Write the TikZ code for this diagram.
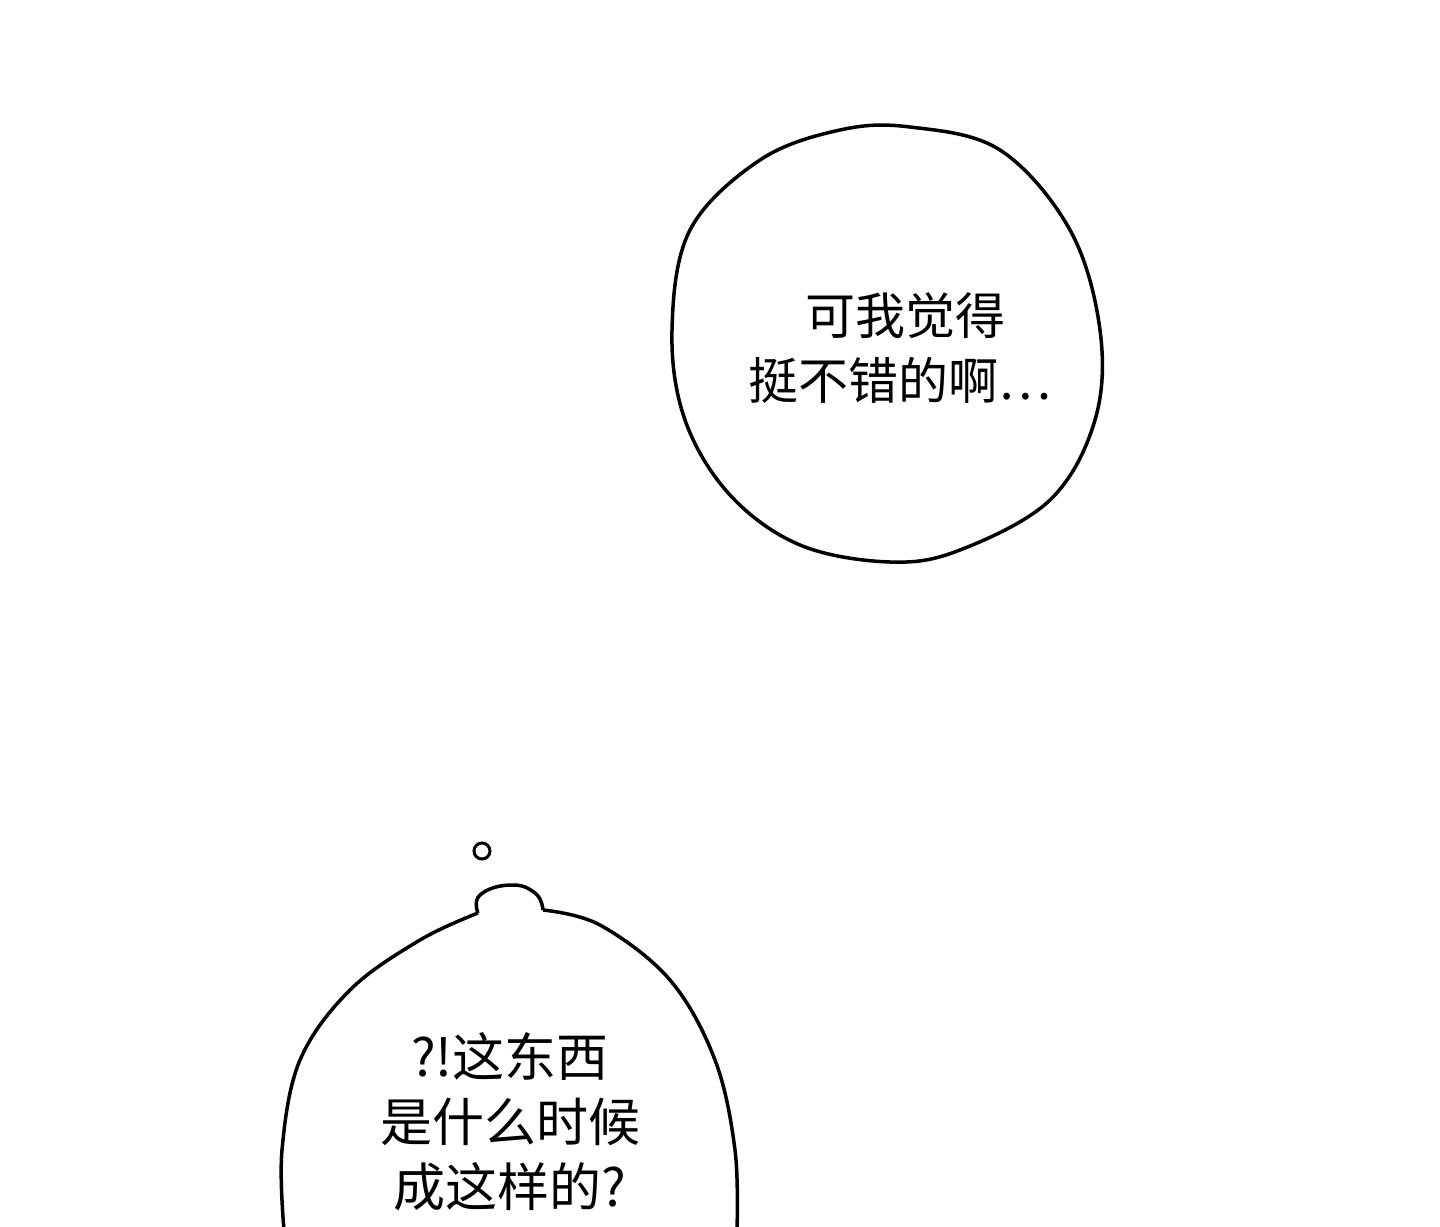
\documentclass[tikz,border=0pt]{standalone}
\usepackage{fontspec}
\newfontfamily\cjk{Noto Sans CJK SC}
\begin{document}
\begin{tikzpicture}[x=1pt,y=-1pt,line width=3.5pt,
  txt/.style={font=\cjk\fontsize{50}{65}\selectfont,align=center,inner sep=0pt}]
\useasboundingbox (0,0) rectangle (1440,1226);
\fill[white] (0,0) rectangle (1440,1226);
\draw plot[smooth cycle,tension=0.6] coordinates {(910,127) (1000,150) (1070,230) (1100,330) (1095,420) (1050,500) (960,550) (890,562) (800,545) (730,495) (685,420) (672,330) (690,230) (760,160) (840,130)};
\node[txt] (t1) at (900,348) {\ 可我觉得\\挺不错的啊…};
\draw plot[smooth,tension=0.6] coordinates {(284,1230) (282,1150) (300,1060) (350,990) (420,940) (478,913)};
\draw plot[smooth,tension=0.8] coordinates {(478,913) (480,895) (510,885) (535,893) (543,910)};
\draw plot[smooth,tension=0.6] coordinates {(543,910) (600,925) (670,980) (715,1060) (735,1150) (737,1230)};
\draw[line width=3pt] (482,851) circle (8);
\node[txt,font=\cjk\fontsize{52}{65}\selectfont] (t2) at (510,1122) {?!这东西\\是什么时候\\成这样的?};
\end{tikzpicture}
\end{document}
